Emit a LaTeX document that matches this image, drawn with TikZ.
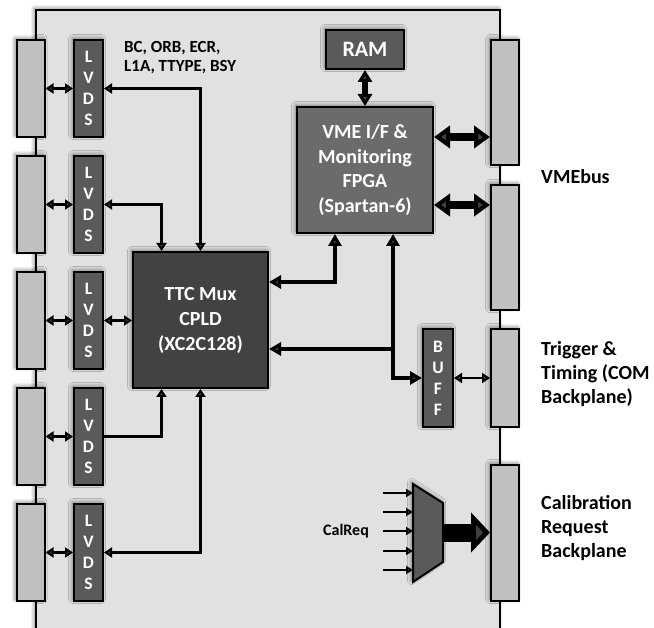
\documentclass[tikz,border=0pt]{standalone}
\usepackage{fontspec}
\setmainfont{Carlito}
\usetikzlibrary{arrows.meta,shadows.blur,calc}
\definecolor{boardfill}{HTML}{E1E1E1}
\definecolor{connfill}{HTML}{C0C0C0}
\definecolor{lvdsfill}{HTML}{5A5A5A}
\definecolor{cpldfill}{HTML}{424242}
\definecolor{fpgafill}{HTML}{6B6B6B}
\begin{document}
\begin{tikzpicture}[x=1pt,y=-1pt,
  shad/.style={blur shadow={shadow xshift=-1.5pt,shadow yshift=1.5pt,shadow blur radius=4pt,shadow blur steps=8,shadow opacity=50}},
  conn/.style={draw=black,line width=2pt,fill=connfill,minimum width=28pt,inner sep=0pt,shad},
  chip/.style={draw=black,line width=2pt,inner sep=0pt,text=white,align=center,shad},
  lvds/.style={chip,fill=lvdsfill,minimum width=29pt,minimum height=97pt,font=\fontsize{17.5}{21}\selectfont\bfseries},
  thinarr/.style={line width=2.5pt,{Triangle[length=8pt,width=10pt]}-{Triangle[length=8pt,width=10pt]}},
  thinone/.style={line width=2.5pt,-{Triangle[length=8pt,width=10pt]}},
  medarr/.style={line width=4pt,{Triangle[length=12pt,width=13pt]}-{Triangle[length=12pt,width=13pt]}},
  medone/.style={line width=4pt,-{Triangle[length=12pt,width=13pt]}},
  ramarr/.style={line width=5.5pt,{Triangle[length=12pt,width=14pt]}-{Triangle[length=12pt,width=14pt]}},
  vmearr/.style={line width=8pt,{Triangle[length=16pt,width=22pt]}-{Triangle[length=16pt,width=22pt]}},
  inarr/.style={line width=1.8pt,-{Triangle[length=7pt,width=8pt]}},
  lbl/.style={font=\fontsize{20}{24}\selectfont\bfseries,align=left,anchor=west,inner sep=0pt}
]
\useasboundingbox (0,0) rectangle (654,628);
% board
\fill[boardfill,shad] (36,10) rectangle (500,660);
\draw[line width=1.3pt] (36,660) -- (36,10) -- (500,10) -- (500,660);

% left connectors and LVDS
\foreach \i in {1,...,5}{
  \node[conn,minimum height=97pt] (c\i) at (30.5,{88.5+116*(\i-1)}) {};
  \node[lvds] (l\i) at (88.5,{88.5+116*(\i-1)}) {L\\V\\D\\S};
  \draw[thinarr] (c\i.east) -- (l\i.west);
}

% CPLD
\node[chip,fill=cpldfill,minimum width=135pt,minimum height=136pt,
      font=\fontsize{20}{25}\selectfont\bfseries] (cpld) at (200.5,320) {TTC Mux\\CPLD\\(XC2C128)};
% RAM
\node[chip,fill=lvdsfill,minimum width=78pt,minimum height=39pt,
      font=\fontsize{22}{26}\selectfont\bfseries] (ram) at (365,49.5) {RAM};
% FPGA
\node[chip,fill=fpgafill,minimum width=136pt,minimum height=126pt,
      font=\fontsize{20}{24.5}\selectfont\bfseries] (fpga) at (365,170) {VME I/F \&\\Monitoring\\FPGA\\(Spartan-6)};
% BUFF
\node[lvds,minimum width=30pt,minimum height=98pt] (buff) at (438,378) {B\\U\\F\\F};

% right connectors
\node[conn,minimum height=125pt] (vme1) at (505,102.5) {};
\node[conn,minimum height=125pt] (vme2) at (505,247.5) {};
\node[conn,minimum height=98pt] (trig) at (505,378) {};
\node[conn,minimum height=136pt] (cal) at (505,533) {};

% LVDS <-> CPLD
\draw[thinarr] (l1.east) -| (cpld.north);
\draw[thinarr] (l2.east) -| ([xshift=-39pt]cpld.north);
\draw[thinarr] (l3.east) -- (l3.east -| cpld.west);
\draw[thinone] (l4.east) -| ([xshift=-39pt]cpld.south);
\draw[thinarr] (cpld.south) |- (l5.east);

% CPLD <-> FPGA
\draw[medarr] ([yshift=38pt]cpld.east) -| ([xshift=-30pt]fpga.south);
\coordinate (fx) at ([xshift=28pt]fpga.south);
\coordinate (cy) at ([yshift=-29pt]cpld.east);
\coordinate (jn) at (fx |- cy);
\draw[medarr] (fx) |- (buff.west);
\draw[medone] (jn) -- (cy);

% RAM <-> FPGA
\draw[ramarr] (ram.south) -- (fpga.north);
% FPGA <-> VME
\coordinate (a1) at ([yshift=33pt]fpga.east);
\coordinate (a2) at ([yshift=-35pt]fpga.east);
\draw[vmearr] (a1) -- (a1 -| vme1.west);
\draw[vmearr] (a2) -- (a2 -| vme2.west);
% BUFF <-> trigger
\draw[thinarr] (buff.east) -- (trig.west);

% Mux
\filldraw[fill=lvdsfill,draw=black,line width=2pt,shad] (413,484) -- (443,503) -- (443,562) -- (413,582) -- cycle;
\coordinate (muxE) at (443,532.5);
\foreach \y [count=\k] in {493,512,531,551,570}{
  \coordinate (min\k) at (383,\y);
  \coordinate (mout\k) at (413,\y);
  \draw[inarr] (min\k) -- (mout\k);
}
\draw[line width=18pt,-{Triangle[length=19pt,width=39pt]}] (muxE) -- (muxE -| cal.west);
\node[font=\fontsize{16}{19}\selectfont\bfseries,inner sep=0pt] (calreq) at (346,531) {CalReq};

% labels
\node[font=\fontsize{17}{19}\selectfont\bfseries,align=left,anchor=west,inner sep=0pt] (sig) at (124,58) {BC, ORB, ECR,\\L1A, TTYPE, BSY};
\node[lbl] (vmebus) at (541,177) {VMEbus};
\node[lbl] (ttlbl) at (541,374) {Trigger \&\\Timing (COM\\Backplane)};
\node[lbl] (callbl) at (541,528) {Calibration\\Request\\Backplane};
\end{tikzpicture}
\end{document}
